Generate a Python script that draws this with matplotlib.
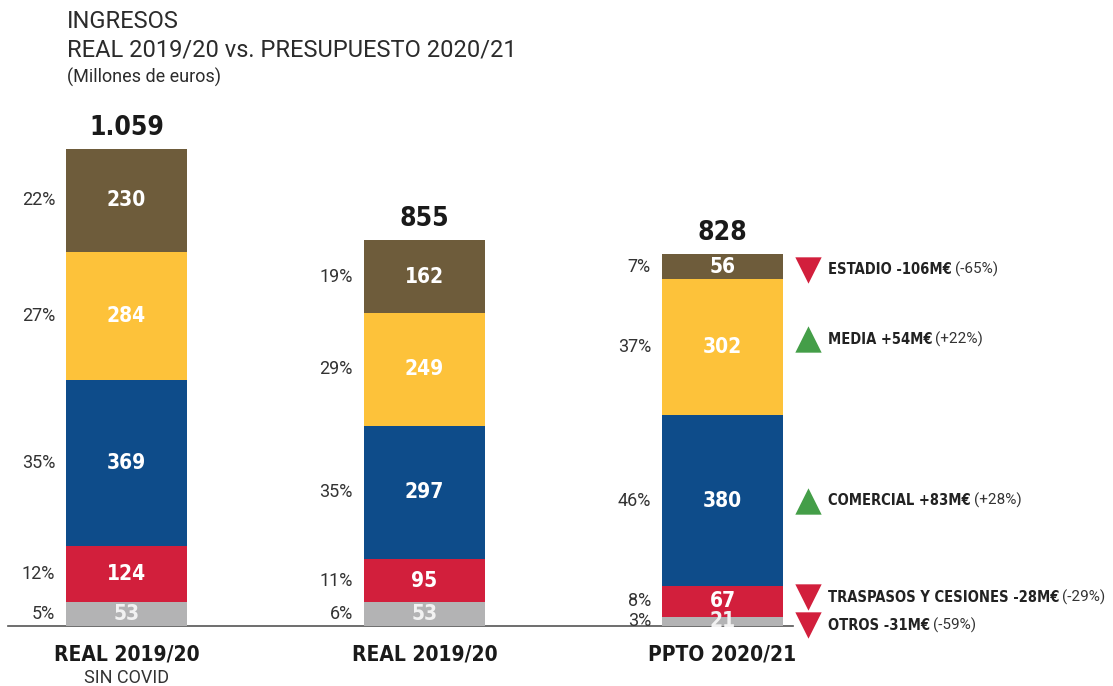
import numpy as np
import matplotlib.pyplot as plt

# datos (millones de euros)
categorias = ['REAL 2019/20', 'REAL 2019/20', 'PPTO 2020/21']
subtitulos = ['SIN COVID', '', '']
otros = [53, 53, 21]
traspasos = [124, 95, 67]
comercial = [369, 297, 380]
media = [284, 249, 302]
estadio = [230, 162, 56]
totales = ['1.059', '855', '828']
porcentajes = [[5, 12, 35, 27, 22],
               [6, 11, 35, 29, 19],
               [3, 8, 46, 37, 7]]

variaciones = ['OTROS -31M€', 'TRASPASOS Y CESIONES -28M€', 'COMERCIAL +83M€',
               'MEDIA +54M€', 'ESTADIO -106M€']
variaciones_pct = ['(-59%)', '(-29%)', '(+28%)', '(+22%)', '(-65%)']
sube = [False, False, True, True, False]

series = [otros, traspasos, comercial, media, estadio]
colores = ['#b3b3b4', '#d21f3c', '#0e4c8a', '#fdc23a', '#6e5c3b']
color_txt = ['#f2f2f2', 'white', 'white', 'white', 'white']

LIGHT = 'Roboto'
bold_kw = dict(family='DejaVu Sans', fontweight='bold', fontstretch='condensed')

fig = plt.figure(figsize=(11.13, 6.86), dpi=100)
ax = fig.add_axes([0, 60 / 686, 1, 495 / 686])
ax.set_xlim(-126.5 / 298, (1113 - 126.5) / 298)
ax.set_ylim(0, 495 / 0.4504)
ax.axis('off')

x = np.arange(len(categorias))
ancho = 121 / 298
base = np.zeros(len(categorias))
for s, serie in enumerate(series):
    vals = np.array(serie, dtype=float)
    ax.bar(x, vals, ancho, bottom=base, color=colores[s], zorder=2)
    for i in range(len(x)):
        yc = base[i] + vals[i] / 2
        ax.text(x[i], yc, str(serie[i]), ha='center', va='center',
                color=color_txt[s], fontsize=15, zorder=3, **bold_kw)
        ax.text(x[i] - ancho / 2 - 11 / 298, yc, f'{porcentajes[i][s]}%', ha='right',
                va='center', color='#333333', fontsize=13, family=LIGHT)
    base += vals

for i in range(len(x)):
    ax.text(x[i], base[i] + 8 / 0.4504, totales[i], ha='center', va='bottom',
            fontsize=19, color='#1a1a1a', **bold_kw)
    ax.text(x[i], -29 / 0.4504, categorias[i], ha='center', va='center',
            fontsize=15, color='#1a1a1a', **bold_kw)
    if subtitulos[i]:
        ax.text(x[i], -52 / 0.4504, subtitulos[i], ha='center', va='center',
                fontsize=13, family=LIGHT, color='#333333')

# linea base
ax.plot([-118.5 / 298, (793 - 126.5) / 298], [0, 0], color='#555555', lw=1.2,
        zorder=1, clip_on=False)

# variaciones respecto a 2019/20
ajuste = [-4, 4, 0, 8, -3]  # px
xtri = (808 - 126.5) / 298
xtxt = (828 - 126.5) / 298
fig.canvas.draw()
r = fig.canvas.get_renderer()
base = np.zeros(len(categorias))
for s, serie in enumerate(series):
    yc = base[2] + serie[2] / 2 + ajuste[s] / 0.4504
    base += np.array(serie, dtype=float)
    ax.scatter([xtri], [yc], marker='^' if sube[s] else 'v', s=360,
               color='#449e48' if sube[s] else '#d21f3c', zorder=3, linewidths=0,
               clip_on=False)
    t = ax.text(xtxt, yc, variaciones[s], ha='left', va='center', fontsize=10.5,
                color='#222222', **bold_kw)
    bb = t.get_window_extent(renderer=r)
    xd, _ = ax.transData.inverted().transform((bb.x1 + 3, 0))
    ax.text(xd, yc, variaciones_pct[s], ha='left', va='center', fontsize=11,
            family=LIGHT, color='#333333')

# titulo
fig.text(67 / 1113, 1 - 22 / 686, 'INGRESOS', fontsize=17,
         family=LIGHT, color='#2b2b2b', va='center')
fig.text(67 / 1113, 1 - 50 / 686, 'REAL 2019/20 vs. PRESUPUESTO 2020/21', fontsize=17,
         family=LIGHT, color='#2b2b2b', va='center')
fig.text(67 / 1113, 1 - 77 / 686, '(Millones de euros)', fontsize=13,
         family=LIGHT, color='#2b2b2b', va='center')

fig.savefig('out.png', dpi=100)
